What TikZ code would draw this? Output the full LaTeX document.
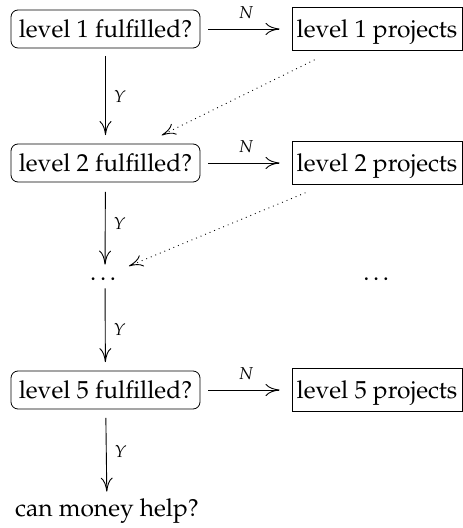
\documentclass[tikz,border=0pt]{standalone}
\usepackage[T1]{fontenc}
\usepackage{mathpazo}
\usetikzlibrary{arrows.meta,calc}
\begin{document}
\begin{tikzpicture}[x=0.5pt,y=-0.5pt,
  every node/.style={font=\fontsize{12.3}{15}\selectfont},
  qbox/.style={draw,rounded corners=3.5pt,minimum width=94.5pt,minimum height=19pt,inner sep=0pt,text height=9.5pt,text depth=1pt},
  pbox/.style={draw,minimum width=85pt,minimum height=21.5pt,inner sep=0pt,text height=9.5pt,text depth=1pt},
  plain/.style={inner sep=0pt,text height=9.5pt,text depth=1pt},
  dotsnode/.style={inner sep=0pt,minimum height=12pt,text height=5pt,text depth=0pt},
  ar/.style={-{Computer Modern Rightarrow[length=7pt,width=6pt]},line width=0.45pt},
  dar/.style={ar,dotted},
  lbl/.style={font=\fontsize{8.6}{10}\selectfont,inner sep=1pt}
]
\useasboundingbox (0,0) rectangle (462,528);
\node[qbox] (L1) at (105.5,29) {level 1 fulfilled?};
\node[pbox] (R1) at (377,29) {level 1 projects};
\node[qbox] (L2) at (105.5,163) {level 2 fulfilled?};
\node[pbox] (R2) at (377,163) {level 2 projects};
\node[dotsnode] (D1) at (105,276) {\dots};
\node[dotsnode] (D2) at (378,276) {\dots};
\node[qbox] (L5) at (105.5,390) {level 5 fulfilled?};
\node[pbox] (R5) at (377,390) {level 5 projects};
\node[plain,minimum height=15pt] (M) at (107,508) {can money help?};

\draw[ar,shorten <=4pt,shorten >=6pt] (L1) -- node[lbl,above=4pt]{$N$} (R1);
\draw[ar,shorten <=4pt,shorten >=6pt] (L2) -- node[lbl,above=4pt]{$N$} (R2);
\draw[ar,shorten <=4pt,shorten >=6pt] (L5) -- node[lbl,above=4pt]{$N$} (R5);

\draw[ar,shorten <=3.75pt,shorten >=4.25pt] (L1) -- node[lbl,right=3pt]{$Y$} (L2);
\draw[ar,shorten <=4.75pt,shorten >=-0.5pt] (L2) -- node[lbl,right=3pt]{$Y$} (D1);
\draw[ar,shorten <=0pt,shorten >=4.25pt] (D1) -- node[lbl,right=3pt]{$Y$} (L5);
\draw[ar,shorten <=4.25pt,shorten >=0.5pt] (L5) -- node[lbl,right=3pt]{$Y$} (M);

\draw[dar] ($(R1.center)!0.23!(L2.center)$) -- ($(R1.center)!0.793!(L2.center)$);
\draw[dar] ($(R2.center)!0.263!(D1.center)$) -- ($(R2.center)!0.912!(D1.center)$);
\end{tikzpicture}
\end{document}
